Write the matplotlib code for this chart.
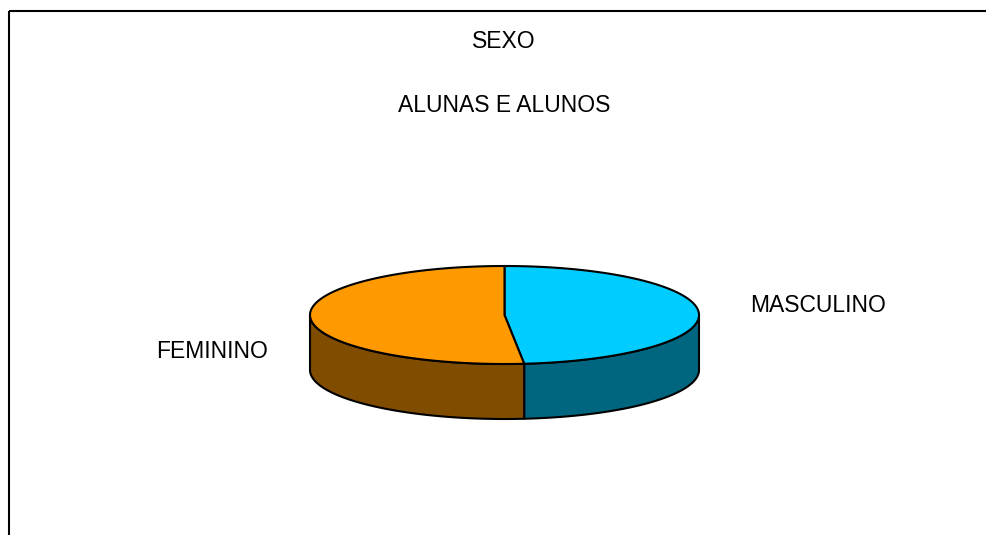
import matplotlib.pyplot as plt
import numpy as np
from matplotlib.patches import Polygon

# Data
labels = ['MASCULINO', 'FEMININO']
values = [15, 16]
top_colors = ['#00CCFF', '#FF9900']
side_colors = ['#00667F', '#7F4C00']

# Pie geometry (pixels)
cx, cy = 504.5, 315.0
a, b = 194.5, 49.0
depth = 55.0

fig = plt.figure(figsize=(9.87, 5.35), dpi=100)
ax = fig.add_axes([0, 0, 1, 1])
ax.set_xlim(0, 987)
ax.set_ylim(535, 0)
ax.axis('off')

def ell(phi, dy=0.0):
    # phi measured clockwise from 12 o'clock, in degrees
    r = np.radians(phi)
    return cx + a*np.sin(r), cy - b*np.cos(r) + dy

fr = np.array(values, dtype=float)/sum(values)*360
starts = np.concatenate([[0], np.cumsum(fr)[:-1]])

# side faces (front half only)
for s, w, c in zip(starts, fr, side_colors):
    lo, hi = max(s, 90), min(s+w, 270)
    if hi <= lo:
        continue
    phi = np.linspace(lo, hi, 200)
    xt, yt = ell(phi)
    xb, yb = ell(phi[::-1], depth)
    pts = np.column_stack([np.concatenate([xt, xb]), np.concatenate([yt, yb])])
    ax.add_patch(Polygon(pts, closed=True, fc=c, ec='black', lw=1.5, joinstyle='round'))

# top faces
for s, w, c in zip(starts, fr, top_colors):
    phi = np.linspace(s, s+w, 300)
    xt, yt = ell(phi)
    pts = np.column_stack([np.concatenate([[cx], xt]), np.concatenate([[cy], yt])])
    ax.add_patch(Polygon(pts, closed=True, fc=c, ec='black', lw=1.5, joinstyle='round'))

# frame (top and left)
ax.plot([8.5, 987], [11, 11], color='black', lw=1.5, solid_capstyle='butt')
ax.plot([8.5, 8.5], [11, 535], color='black', lw=1.5, solid_capstyle='butt')

font = 'Liberation Sans'
ax.text(504, 42, 'SEXO', ha='center', va='center', fontsize=16.5, family=font)
ax.text(504, 106, 'ALUNAS E ALUNOS', ha='center', va='center', fontsize=16.5, family=font)
ax.text(818, 306, labels[0], ha='center', va='center', fontsize=16.5, family=font)
ax.text(212, 351, labels[1], ha='center', va='center', fontsize=16.5, family=font)

fig.savefig('out.png', dpi=100)
